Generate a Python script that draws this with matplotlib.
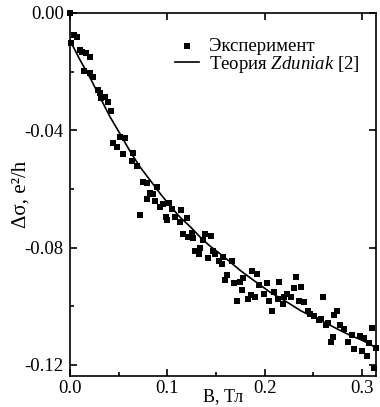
import numpy as np
import matplotlib
matplotlib.use("Agg")
import matplotlib.pyplot as plt
from matplotlib.ticker import MultipleLocator, FormatStrFormatter

plt.rcParams['font.family'] = ['Liberation Serif', 'DejaVu Serif']
plt.rcParams['mathtext.fontset'] = 'custom'
plt.rcParams['mathtext.rm'] = 'Liberation Serif'
plt.rcParams['mathtext.it'] = 'Liberation Serif:italic'
plt.rcParams['axes.unicode_minus'] = False

# experiment: magnetic field B (T) and conductance change (e^2/h)
b_exp = [0.0000, 0.0010, 0.0041, 0.0072, 0.0103, 0.0124, 0.0165, 0.0206, 0.0144, 0.0206,
         0.0237, 0.0289, 0.0309, 0.0361, 0.0320, 0.0392, 0.0423, 0.0443, 0.0485, 0.0515,
         0.0567, 0.0546, 0.0649, 0.0639, 0.0691,
         0.0753, 0.0794, 0.0897, 0.0825, 0.0856, 0.0794, 0.0876, 0.0928, 0.0959, 0.1021,
         0.0722, 0.1052, 0.1144, 0.0990, 0.1000, 0.1082, 0.1134, 0.1206, 0.1165, 0.1216,
         0.1258, 0.1268, 0.1392, 0.1454, 0.1371, 0.1340, 0.1289, 0.1330, 0.1474, 0.1495,
         0.1423, 0.1536, 0.1577, 0.1567, 0.1670, 0.1619, 0.1598, 0.1691, 0.1753, 0.1784,
         0.1876, 0.1918, 0.1773, 0.1722, 0.1835, 0.1856, 0.1907, 0.1948,
         0.2021, 0.2144, 0.1990, 0.2093, 0.2041, 0.2082, 0.2134, 0.2196, 0.2227, 0.2186,
         0.2268, 0.2320, 0.2299, 0.2371, 0.2351, 0.2402, 0.2443, 0.2464,
         0.2505, 0.2557, 0.2577, 0.2598, 0.2629, 0.2649, 0.2711, 0.2742, 0.2773, 0.2814,
         0.2701, 0.2680, 0.2897, 0.2856, 0.2918, 0.2979, 0.3021, 0.3072, 0.3000, 0.3052,
         0.3103, 0.3150, 0.3124]
ds_exp = [0.0000, -0.0103, -0.0075, -0.0082, -0.0127, -0.0134, -0.0137, -0.0151, -0.0199, -0.0206,
          -0.0219, -0.0264, -0.0274, -0.0285, -0.0291, -0.0305, -0.0336, -0.0442, -0.0456, -0.0422,
          -0.0425, -0.0480, -0.0477, -0.0504, -0.0521,
          -0.0576, -0.0579, -0.0593, -0.0614, -0.0617, -0.0634, -0.0641, -0.0662, -0.0651, -0.0648,
          -0.0689, -0.0669, -0.0672, -0.0696, -0.0706, -0.0696, -0.0713, -0.0699, -0.0754, -0.0765,
          -0.0751, -0.0768, -0.0754, -0.0761, -0.0775, -0.0802, -0.0813, -0.0823, -0.0813, -0.0823,
          -0.0837, -0.0847, -0.0833, -0.0857, -0.0847, -0.0895, -0.0912, -0.0922, -0.0919, -0.0905,
          -0.0881, -0.0891, -0.0946, -0.0981, -0.0974, -0.0963, -0.0970, -0.0929,
          -0.0922, -0.0919, -0.0957, -0.0953, -0.0981, -0.1015, -0.0974, -0.0967, -0.0960, -0.0994,
          -0.0970, -0.0902, -0.0939, -0.0933, -0.0981, -0.0984, -0.1015, -0.1025,
          -0.1035, -0.1046, -0.1042, -0.0967, -0.1063, -0.1059, -0.1029, -0.1018, -0.1063, -0.1077,
          -0.1104, -0.1121, -0.1097, -0.1121, -0.1145, -0.1101, -0.1107, -0.1125, -0.1152, -0.1169,
          -0.1073, -0.1142, -0.1210]

# theory curve (Zduniak)
b_th = [0.000, 0.010, 0.021, 0.031, 0.041, 0.052, 0.062, 0.072, 0.083, 0.093, 0.103,
        0.113, 0.124, 0.134, 0.144, 0.155, 0.165, 0.175, 0.186, 0.196, 0.206, 0.217,
        0.227, 0.237, 0.247, 0.258, 0.268, 0.278, 0.289, 0.299, 0.309, 0.3165]
ds_th = [-0.0093, -0.0158, -0.0223, -0.0288, -0.0353, -0.0415, -0.0473, -0.0525, -0.0573,
         -0.0617, -0.0658, -0.0696, -0.0730, -0.0765, -0.0795, -0.0823, -0.0850, -0.0878,
         -0.0905, -0.0929, -0.0953, -0.0974, -0.0994, -0.1015, -0.1032, -0.1049, -0.1066,
         -0.1083, -0.1101, -0.1114, -0.1131, -0.1145]

fig = plt.figure(figsize=(3.8, 4.07), dpi=100)
ax = fig.add_axes([0.184, 0.0762, 0.805, 0.892])

ax.scatter(b_exp, ds_exp, marker='s', s=14, color='black', linewidths=0,
           clip_on=False, zorder=3, label='Эксперимент')
ax.plot(b_th, ds_th, color='black', lw=1.2, label='Теория $\\it{Zduniak}$ [2]')

ax.set_xlim(0, 0.3144)
ax.set_ylim(-0.1238, 0.0)
ax.xaxis.set_major_locator(MultipleLocator(0.1))
ax.xaxis.set_minor_locator(MultipleLocator(0.05))
ax.yaxis.set_major_locator(MultipleLocator(0.04))
ax.yaxis.set_minor_locator(MultipleLocator(0.02))
ax.xaxis.set_major_formatter(FormatStrFormatter('%.1f'))
ax.yaxis.set_major_formatter(FormatStrFormatter('%.2f'))
ax.tick_params(which='both', direction='in', labelsize=13.5, width=1.2)
ax.tick_params(axis='y', pad=4.5)
ax.tick_params(axis='x', pad=3)
ax.tick_params(which='major', length=5, top=True, right=True)
ax.tick_params(which='minor', length=3)
for s in ax.spines.values():
    s.set_linewidth(1.2)

ax.set_xlabel('B, Тл', fontsize=13, labelpad=-6.5)
ax.set_ylabel('Δσ, e²/h', fontsize=15, labelpad=-4.5)

ax.legend(loc='upper left', bbox_to_anchor=(0.30, 0.968), frameon=False,
          fontsize=13.5, handlelength=1.3, handletextpad=0.5, labelspacing=-0.05,
          borderpad=0.2, scatterpoints=1)

fig.savefig('out.png', dpi=100)
